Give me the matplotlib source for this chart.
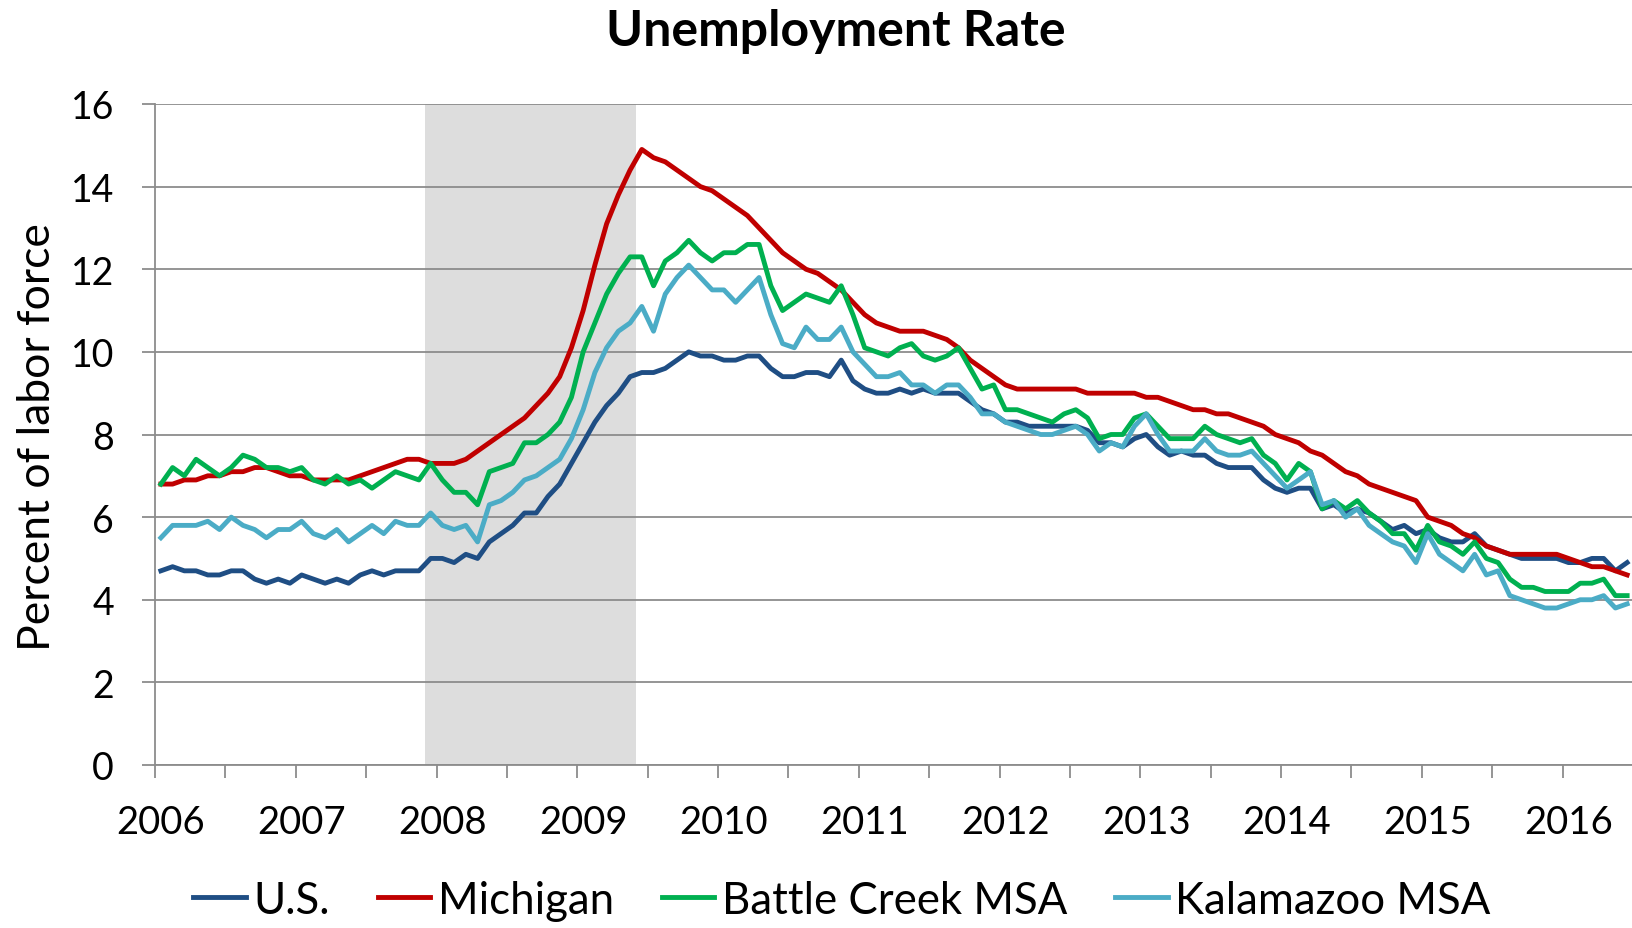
import numpy as np
import matplotlib
matplotlib.use("Agg")
import matplotlib.pyplot as plt

# monthly rates, Jan 2006 - Jun 2016
us = [4.7, 4.8, 4.7, 4.7, 4.6, 4.6, 4.7, 4.7, 4.5, 4.4, 4.5, 4.4,
      4.6, 4.5, 4.4, 4.5, 4.4, 4.6, 4.7, 4.6, 4.7, 4.7, 4.7, 5.0,
      5.0, 4.9, 5.1, 5.0, 5.4, 5.6, 5.8, 6.1, 6.1, 6.5, 6.8, 7.3,
      7.8, 8.3, 8.7, 9.0, 9.4, 9.5, 9.5, 9.6, 9.8, 10.0, 9.9, 9.9,
      9.8, 9.8, 9.9, 9.9, 9.6, 9.4, 9.4, 9.5, 9.5, 9.4, 9.8, 9.3,
      9.1, 9.0, 9.0, 9.1, 9.0, 9.1, 9.0, 9.0, 9.0, 8.8, 8.6, 8.5,
      8.3, 8.3, 8.2, 8.2, 8.2, 8.2, 8.2, 8.1, 7.8, 7.8, 7.7, 7.9,
      8.0, 7.7, 7.5, 7.6, 7.5, 7.5, 7.3, 7.2, 7.2, 7.2, 6.9, 6.7,
      6.6, 6.7, 6.7, 6.2, 6.3, 6.1, 6.2, 6.1, 5.9, 5.7, 5.8, 5.6,
      5.7, 5.5, 5.4, 5.4, 5.6, 5.3, 5.2, 5.1, 5.0, 5.0, 5.0, 5.0,
      4.9, 4.9, 5.0, 5.0, 4.7, 4.9]

michigan = [6.8, 6.8, 6.9, 6.9, 7.0, 7.0, 7.1, 7.1, 7.2, 7.2, 7.1, 7.0,
            7.0, 6.9, 6.9, 6.9, 6.9, 7.0, 7.1, 7.2, 7.3, 7.4, 7.4, 7.3,
            7.3, 7.3, 7.4, 7.6, 7.8, 8.0, 8.2, 8.4, 8.7, 9.0, 9.4, 10.1,
            11.0, 12.1, 13.1, 13.8, 14.4, 14.9, 14.7, 14.6, 14.4, 14.2, 14.0, 13.9,
            13.7, 13.5, 13.3, 13.0, 12.7, 12.4, 12.2, 12.0, 11.9, 11.7, 11.5, 11.2,
            10.9, 10.7, 10.6, 10.5, 10.5, 10.5, 10.4, 10.3, 10.1, 9.8, 9.6, 9.4,
            9.2, 9.1, 9.1, 9.1, 9.1, 9.1, 9.1, 9.0, 9.0, 9.0, 9.0, 9.0,
            8.9, 8.9, 8.8, 8.7, 8.6, 8.6, 8.5, 8.5, 8.4, 8.3, 8.2, 8.0,
            7.9, 7.8, 7.6, 7.5, 7.3, 7.1, 7.0, 6.8, 6.7, 6.6, 6.5, 6.4,
            6.0, 5.9, 5.8, 5.6, 5.5, 5.3, 5.2, 5.1, 5.1, 5.1, 5.1, 5.1,
            5.0, 4.9, 4.8, 4.8, 4.7, 4.6]

battle_creek = [6.8, 7.2, 7.0, 7.4, 7.2, 7.0, 7.2, 7.5, 7.4, 7.2, 7.2, 7.1,
                7.2, 6.9, 6.8, 7.0, 6.8, 6.9, 6.7, 6.9, 7.1, 7.0, 6.9, 7.3,
                6.9, 6.6, 6.6, 6.3, 7.1, 7.2, 7.3, 7.8, 7.8, 8.0, 8.3, 8.9,
                10.0, 10.7, 11.4, 11.9, 12.3, 12.3, 11.6, 12.2, 12.4, 12.7, 12.4, 12.2,
                12.4, 12.4, 12.6, 12.6, 11.6, 11.0, 11.2, 11.4, 11.3, 11.2, 11.6, 10.9,
                10.1, 10.0, 9.9, 10.1, 10.2, 9.9, 9.8, 9.9, 10.1, 9.6, 9.1, 9.2,
                8.6, 8.6, 8.5, 8.4, 8.3, 8.5, 8.6, 8.4, 7.9, 8.0, 8.0, 8.4,
                8.5, 8.2, 7.9, 7.9, 7.9, 8.2, 8.0, 7.9, 7.8, 7.9, 7.5, 7.3,
                6.9, 7.3, 7.1, 6.2, 6.4, 6.2, 6.4, 6.1, 5.9, 5.6, 5.6, 5.2,
                5.8, 5.4, 5.3, 5.1, 5.4, 5.0, 4.9, 4.5, 4.3, 4.3, 4.2, 4.2,
                4.2, 4.4, 4.4, 4.5, 4.1, 4.1]

kalamazoo = [5.5, 5.8, 5.8, 5.8, 5.9, 5.7, 6.0, 5.8, 5.7, 5.5, 5.7, 5.7,
             5.9, 5.6, 5.5, 5.7, 5.4, 5.6, 5.8, 5.6, 5.9, 5.8, 5.8, 6.1,
             5.8, 5.7, 5.8, 5.4, 6.3, 6.4, 6.6, 6.9, 7.0, 7.2, 7.4, 7.9,
             8.6, 9.5, 10.1, 10.5, 10.7, 11.1, 10.5, 11.4, 11.8, 12.1, 11.8, 11.5,
             11.5, 11.2, 11.5, 11.8, 10.9, 10.2, 10.1, 10.6, 10.3, 10.3, 10.6, 10.0,
             9.7, 9.4, 9.4, 9.5, 9.2, 9.2, 9.0, 9.2, 9.2, 8.9, 8.5, 8.5,
             8.3, 8.2, 8.1, 8.0, 8.0, 8.1, 8.2, 8.0, 7.6, 7.8, 7.7, 8.2,
             8.5, 8.0, 7.6, 7.6, 7.6, 7.9, 7.6, 7.5, 7.5, 7.6, 7.3, 7.0,
             6.7, 6.9, 7.1, 6.3, 6.4, 6.0, 6.2, 5.8, 5.6, 5.4, 5.3, 4.9,
             5.6, 5.1, 4.9, 4.7, 5.1, 4.6, 4.7, 4.1, 4.0, 3.9, 3.8, 3.8,
             3.9, 4.0, 4.0, 4.1, 3.8, 3.9]

years = list(range(2006, 2017))
# recession: Dec 2007 through Jun 2009 (month index from Jan 2006)
rec_start, rec_end = 23, 41

plt.rcParams['font.family'] = ['Lato', 'DejaVu Sans']

W, H = 1633, 929
fig = plt.figure(figsize=(W / 100, H / 100), dpi=100)
ax = fig.add_axes([155 / W, 1 - 766 / H, 1 - 155 / W, (766 - 105) / H])

months = np.arange(len(us)) + 0.5
ax.axvspan(rec_start, rec_end, color='#dddddd', lw=0, zorder=1)

lw = 3.5
ax.plot(months, us, color='#1f4e84', lw=lw, label='U.S.', zorder=3)
ax.plot(months, michigan, color='#c00000', lw=lw, label='Michigan', zorder=4)
ax.plot(months, battle_creek, color='#00b050', lw=lw, label='Battle Creek MSA', zorder=5)
ax.plot(months, kalamazoo, color='#4bacc6', lw=lw, label='Kalamazoo MSA', zorder=6)

grey = '#8c8c8c'
ax.set_xlim(0, 126)
ax.set_ylim(0, 16)
ax.set_yticks(range(0, 17, 2))
ax.yaxis.grid(True, color=grey, lw=1.3)
ax.tick_params(axis='y', length=9.5, width=1.3, color=grey, labelsize=27, pad=20)

ax.set_xticks([12 * k + 0.5 for k in range(len(years))])
ax.set_xticklabels([str(y) for y in years])
ax.set_xticks(range(0, 127, 6), minor=True)
ax.tick_params(axis='x', which='major', length=0, labelsize=27.5, pad=28)
ax.tick_params(axis='x', which='minor', length=9.5, width=1.3, color=grey)

for s in ['top', 'right']:
    ax.spines[s].set_visible(False)
for s in ['left', 'bottom']:
    ax.spines[s].set_color(grey)
    ax.spines[s].set_linewidth(1.3)

fig.text(38 / W, 1 - 437 / H, 'Percent of labor force', rotation=90,
         ha='center', va='center', fontsize=32)
fig.text(836 / W, 1 - 31 / H, 'Unemployment Rate', ha='center', va='center',
         fontsize=36, fontweight='bold')

fig.legend(loc='center', bbox_to_anchor=(842 / W, 1 - 901 / H), ncol=4,
           frameon=False, fontsize=31.5, handlelength=1.2, handletextpad=0.17,
           columnspacing=1.1, borderpad=0)

fig.savefig('out.png', dpi=100)
